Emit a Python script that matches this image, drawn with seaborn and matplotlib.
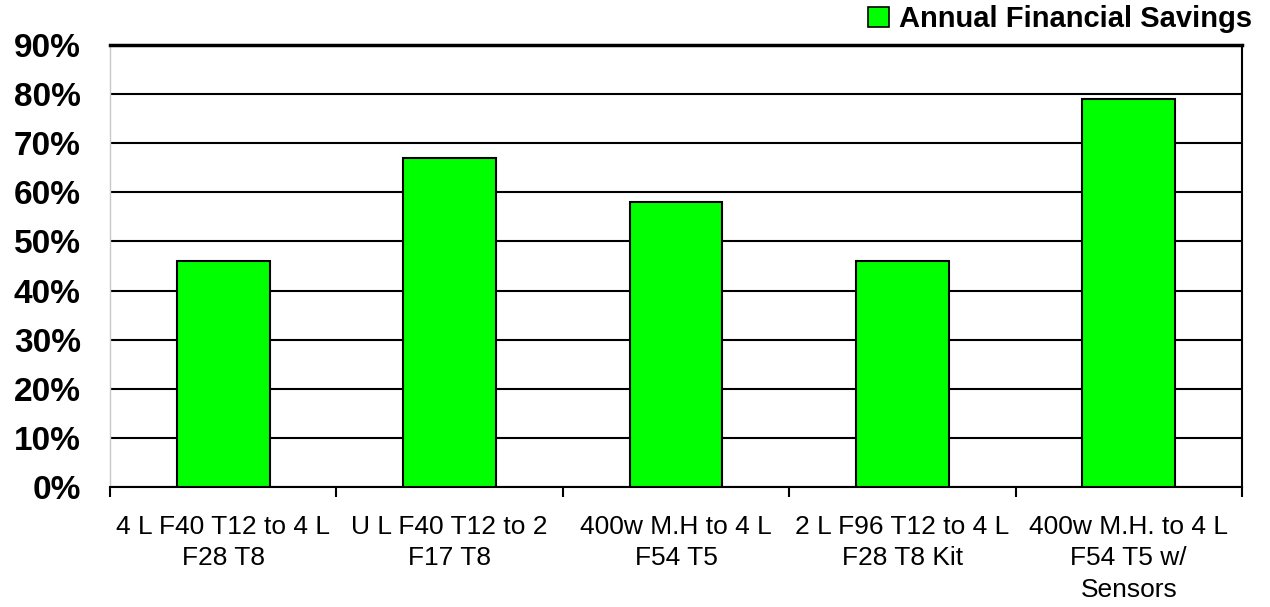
import numpy as np
import pandas as pd
import seaborn as sns
import matplotlib.pyplot as plt
from matplotlib.patches import Patch
from matplotlib.ticker import FixedLocator, PercentFormatter

# chart data
retrofits = [
    "4 L F40 T12 to 4 L\nF28 T8",
    "U L F40 T12 to 2\nF17 T8",
    "400w M.H to 4 L\nF54 T5",
    "2 L F96 T12 to 4 L\nF28 T8 Kit",
    "400w M.H. to 4 L\nF54 T5 w/\nSensors",
]
savings = [46, 67, 58, 46, 79]
series_name = "Annual Financial Savings"
y_ticks = list(range(0, 100, 10))

df = pd.DataFrame({"retrofit": retrofits, "savings": savings})

sns.set_style("white")
plt.rcParams["font.family"] = ["Liberation Sans", "DejaVu Sans"]
plt.rcParams["text.color"] = "black"
plt.rcParams["xtick.color"] = "black"
plt.rcParams["ytick.color"] = "black"

fig = plt.figure(figsize=(12.7, 6.07), dpi=100)
ax = fig.add_axes([0.0866, 0.1977, 0.8913, 0.7282])

sns.barplot(data=df, x="retrofit", y="savings", color="#00FF00",
            edgecolor="black", linewidth=1.5, width=0.41, saturation=1, ax=ax,
            zorder=3)

ax.set_ylim(0, 90)
ax.set_xlim(-0.5, len(retrofits) - 0.5)
ax.set_yticks(y_ticks)
ax.yaxis.set_major_formatter(PercentFormatter(decimals=0))
ax.grid(axis="y", color="black", linewidth=1.5, zorder=0)
ax.set_axisbelow(True)
ax.set_xlabel("")
ax.set_ylabel("")

for lbl in ax.get_yticklabels():
    lbl.set_fontweight("bold")
ax.tick_params(axis="y", length=0, labelsize=24, pad=21)
ax.tick_params(axis="x", which="major", length=0, labelsize=19, pad=20)
for lbl in ax.get_xticklabels():
    lbl.set_linespacing(1.4)
    lbl.set_verticalalignment("top")

# category boundary ticks
ax.xaxis.set_minor_locator(FixedLocator(np.arange(-0.5, len(retrofits), 1.0)))
ax.tick_params(axis="x", which="minor", length=7, width=1.5, color="black",
               direction="out", bottom=True)

for side in ["top", "right", "bottom"]:
    ax.spines[side].set_visible(True)
    ax.spines[side].set_color("black")
    ax.spines[side].set_linewidth(1.5)
ax.spines["top"].set_linewidth(2.5)
ax.spines["left"].set_color("#c8c8c8")
ax.spines["left"].set_linewidth(1)

handle = Patch(facecolor="#00FF00", edgecolor="black", linewidth=1.2)
fig.legend([handle], [series_name], loc="center right",
           bbox_to_anchor=(0.986, 0.968), frameon=False,
           prop={"weight": "bold", "size": 21},
           handlelength=0.7, handleheight=0.7, handletextpad=0.35,
           borderpad=0, borderaxespad=0)

fig.savefig("out.png", dpi=100)
